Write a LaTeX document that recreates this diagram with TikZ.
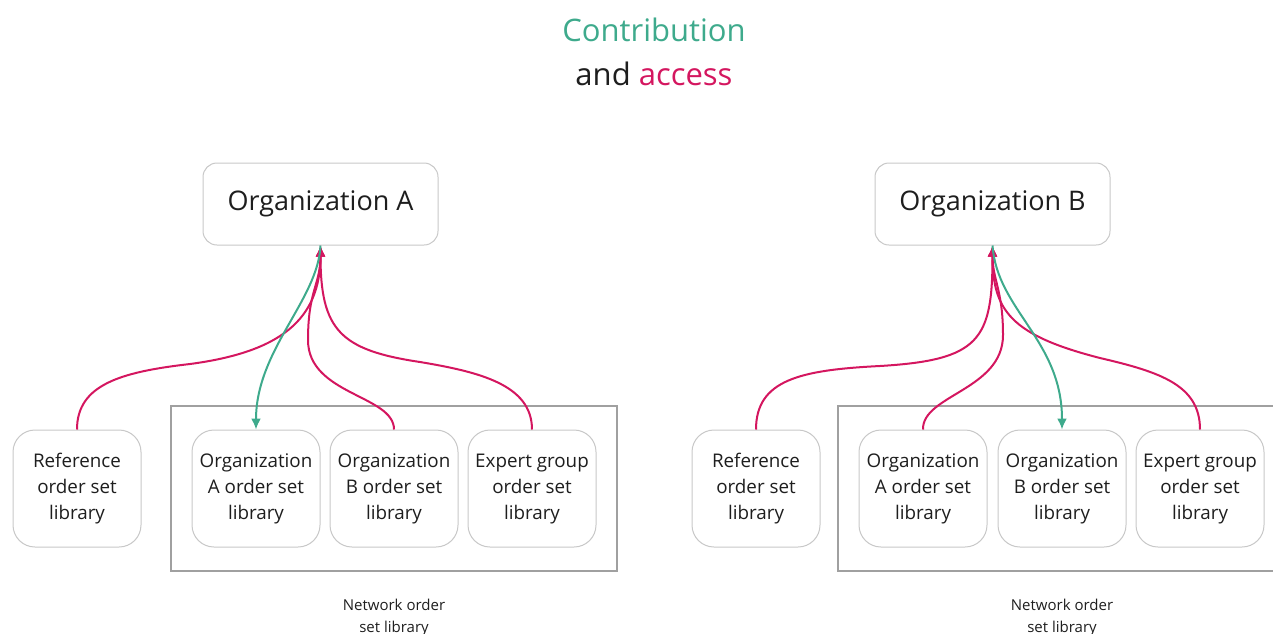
\documentclass[tikz,border=0pt]{standalone}
\usepackage{fontspec}
\setmainfont{Open Sans}
\usetikzlibrary{arrows.meta}
\definecolor{accpink}{RGB}{212,22,95}
\definecolor{contgreen}{RGB}{62,170,140}
\definecolor{boxgray}{RGB}{200,200,200}
\definecolor{netgray}{RGB}{160,160,160}
\definecolor{txt}{RGB}{30,30,30}
\tikzset{
  orgbox/.style={draw=boxgray, line width=1pt, rounded corners=14pt, minimum width=235pt, minimum height=82pt, inner sep=0pt, text=txt, font=\fontsize{27}{32}\selectfont},
  libbox/.style={draw=boxgray, line width=1pt, rounded corners=22pt, minimum width=128pt, minimum height=117pt, inner sep=0pt, align=center, text=txt, font=\fontsize{18.8}{26}\selectfont},
  netbox/.style={draw=netgray, line width=1.2pt, minimum height=165pt, inner sep=0pt},
  netlabel/.style={align=center, text=txt, font=\fontsize{15}{22}\selectfont, inner sep=0pt},
  access/.style={draw=accpink, line width=2pt, -{Latex[length=11pt,width=10pt]}},
  contrib/.style={draw=contgreen, line width=2pt, -{Latex[length=11pt,width=10pt]}},
  titletext/.style={font=\fontsize{31}{36}\selectfont, inner sep=0pt, anchor=base}
}
\begin{document}
\begin{tikzpicture}[x=1pt, y=-1pt]
\useasboundingbox (0,0) rectangle (1273,633);
\begin{scope}
\clip (0,0) rectangle (1273,633);
% title
\node[titletext, text=contgreen] (t1) at (654,41) {Contribution};
\node[titletext, text=txt] (t2) at (654,85) {and \textcolor{accpink}{access}};

% network frames
\node[netbox, minimum width=446pt] (netA) at (394,488.5) {};
\node[netbox, minimum width=452pt] (netB) at (1064,488.5) {};
\node[netlabel] (netAl) at (394,618) {Network order\\set library};
\node[netlabel] (netBl) at (1062,618) {Network order\\set library};

% organization boxes
\node[orgbox, fill=white] (orgA) at (320.5,204) {Organization A};
\node[orgbox, fill=white] (orgB) at (992.5,204) {Organization B};

% library boxes left
\node[libbox, fill=white] (refA) at (77,488.5) {Reference\\order set\\library};
\node[libbox, fill=white] (aA) at (256,488.5) {Organization\\A order set\\library};
\node[libbox, fill=white] (bA) at (394,488.5) {Organization\\B order set\\library};
\node[libbox, fill=white] (eA) at (532,488.5) {Expert group\vphantom{lf}\\order set\\library};

% library boxes right
\node[libbox, fill=white] (refB) at (756,488.5) {Reference\\order set\\library};
\node[libbox, fill=white] (aB) at (923,488.5) {Organization\\A order set\\library};
\node[libbox, fill=white] (bB) at (1062,488.5) {Organization\\B order set\\library};
\node[libbox, fill=white] (eB) at (1200,488.5) {Expert group\vphantom{lf}\\order set\\library};

% left connectors
\draw[access] (refA.north) .. controls (77,385) and (120,372) .. (190,364)
  .. controls (280,352) and (320.5,320) .. (orgA.south);
\draw[access] (bA.north) .. controls (394,395) and (308,395) .. (308,340)
  .. controls (308,290) and (320.5,285) .. (orgA.south);
\draw[access] (eA.north) .. controls (532,385) and (480,372) .. (420,362)
  .. controls (340,350) and (320.5,330) .. (orgA.south);
\draw[contrib] (orgA.south) .. controls (318,300) and (256,350) .. (aA.north);

% right connectors
\draw[access] (refB.north) .. controls (756,380) and (800,370) .. (880,366)
  .. controls (980,360) and (992.5,340) .. (orgB.south);
\draw[access] (aB.north) .. controls (922,395) and (1003,390) .. (1003,335)
  .. controls (1003,290) and (992.5,280) .. (orgB.south);
\draw[access] (eB.north) .. controls (1200,385) and (1160,372) .. (1100,358)
  .. controls (1010,335) and (992.5,310) .. (orgB.south);
\draw[contrib] (orgB.south) .. controls (997,310) and (1062,340) .. (bB.north);
\end{scope}
\end{tikzpicture}
\end{document}
